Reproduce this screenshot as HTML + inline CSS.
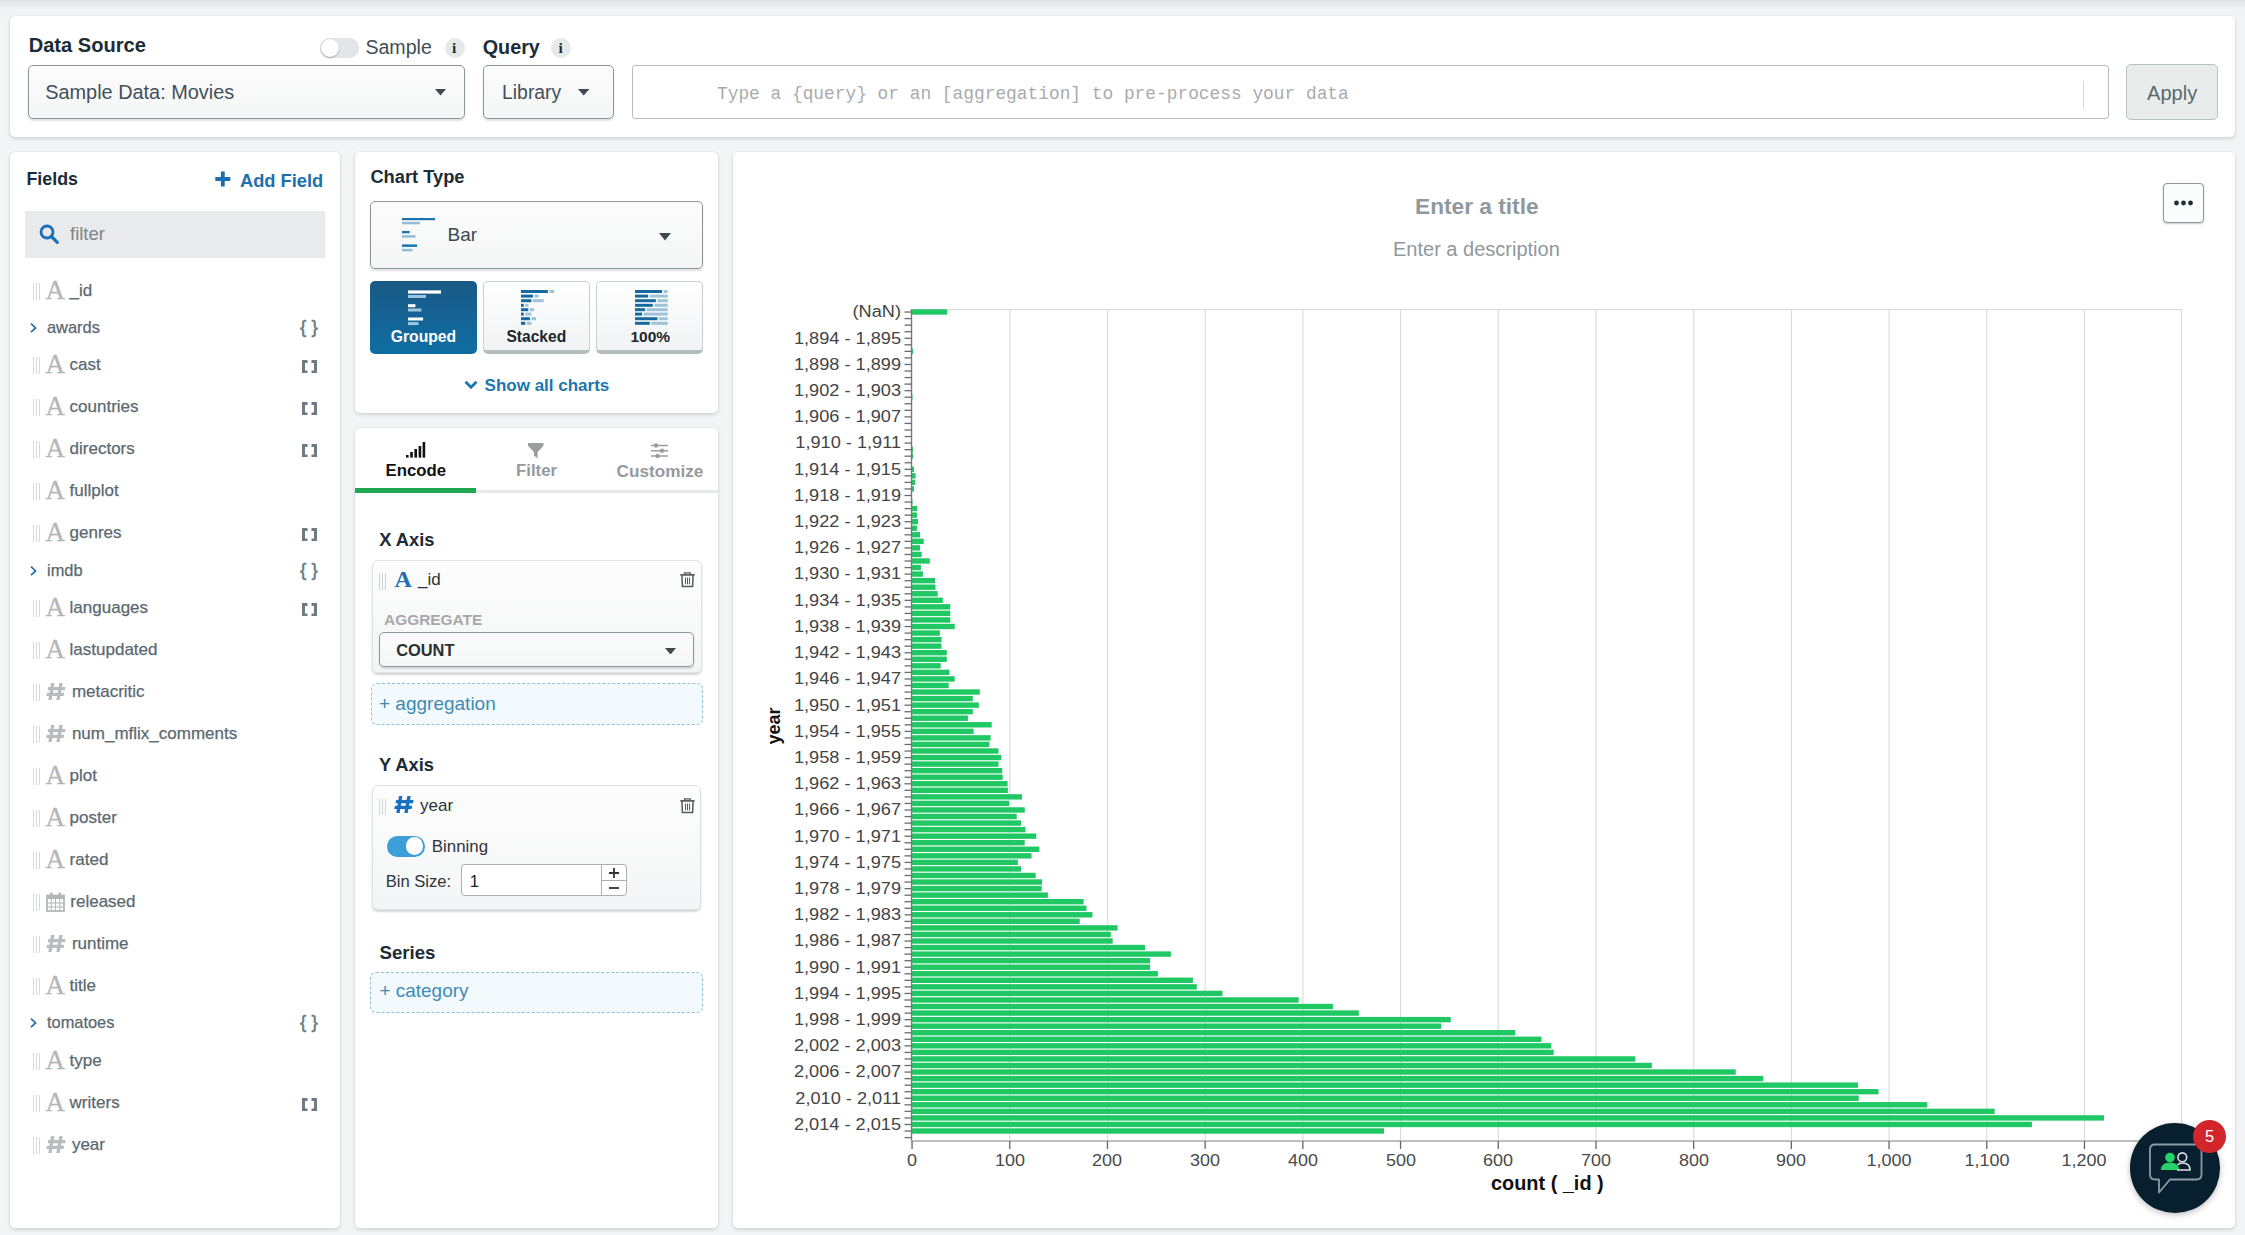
<!DOCTYPE html>
<html><head><meta charset="utf-8"><title>Charts</title>
<style>
html,body{margin:0;padding:0;}
body{width:2245px;height:1235px;overflow:hidden;position:relative;background:#f3f4f6;font-family:'Liberation Sans', sans-serif;}
.t{position:absolute;line-height:1;white-space:nowrap;}
.yl{left:700px;width:201px;text-align:right;font-size:16px;color:#444;transform:scaleX(1.135);transform-origin:100% 50%;}
.xl{top:1151.5px;width:120px;text-align:center;font-size:16.5px;color:#4a4a4a;transform:scaleX(1.09);}
</style></head><body>
<div style="position:absolute;left:0.0px;top:0.0px;width:2245.0px;height:16.0px;background:linear-gradient(#e1e2e4,#f1f2f4 55%,#f3f4f6)"></div><div style="position:absolute;left:10.0px;top:16.0px;width:2225.0px;height:121.0px;background:#fff;border-radius:5px;box-shadow:0 2px 4px rgba(0,0,0,0.12),0 0 2px rgba(0,0,0,0.09)"></div><div style="position:absolute;left:10.0px;top:152.0px;width:330.0px;height:1076.0px;background:#fff;border-radius:5px;box-shadow:0 2px 4px rgba(0,0,0,0.12),0 0 2px rgba(0,0,0,0.09)"></div><div style="position:absolute;left:355.0px;top:152.0px;width:363.0px;height:261.0px;background:#fff;border-radius:5px;box-shadow:0 2px 4px rgba(0,0,0,0.12),0 0 2px rgba(0,0,0,0.09)"></div><div style="position:absolute;left:355.0px;top:428.0px;width:363.0px;height:800.0px;background:#fff;border-radius:5px;box-shadow:0 2px 4px rgba(0,0,0,0.12),0 0 2px rgba(0,0,0,0.09)"></div><div style="position:absolute;left:733.0px;top:152.0px;width:1502.0px;height:1076.0px;background:#fff;border-radius:5px;box-shadow:0 2px 4px rgba(0,0,0,0.12),0 0 2px rgba(0,0,0,0.09)"></div><div class="t" style="left:28.7px;top:34.99px;font-size:20.1px;font-weight:700;color:#1c2c36;font-family:'Liberation Sans', sans-serif;">Data Source</div><div style="position:absolute;left:319.6px;top:37.5px;width:39.0px;height:20.0px;background:#e3e6e8;border-radius:10px;box-shadow:inset 0 0 1px rgba(0,0,0,.15)"></div><div style="position:absolute;left:320.6px;top:38.5px;width:18.0px;height:18.0px;background:#fff;border-radius:50%;box-shadow:0 1px 2px rgba(0,0,0,.3)"></div><div class="t" style="left:365.4px;top:38.01px;font-size:19.6px;color:#3f4d55;font-family:'Liberation Sans', sans-serif;">Sample</div><div style="position:absolute;left:444.5px;top:37.5px;width:20.0px;height:20.0px;background:#e6e9ea;border-radius:50%"></div><div class="t" style="left:451.9px;top:40.18px;font-size:15.5px;font-weight:700;color:#1f2f38;font-family:'Liberation Serif', serif;">i</div><div class="t" style="left:482.7px;top:37.84px;font-size:19.8px;font-weight:700;color:#1c2c36;font-family:'Liberation Sans', sans-serif;">Query</div><div style="position:absolute;left:551.0px;top:37.5px;width:20.0px;height:20.0px;background:#e6e9ea;border-radius:50%"></div><div class="t" style="left:558.4px;top:40.18px;font-size:15.5px;font-weight:700;color:#1f2f38;font-family:'Liberation Serif', serif;">i</div><div style="position:absolute;left:28.0px;top:65.0px;width:437.0px;height:54.0px;background:linear-gradient(#fbfbfb,#f5f6f6);border:1px solid #8c969b;border-radius:5px;box-sizing:border-box;box-shadow:0 2px 2px rgba(0,0,0,.12)"></div><div class="t" style="left:45.2px;top:82.95px;font-size:19.9px;color:#43505a;font-family:'Liberation Sans', sans-serif;">Sample Data: Movies</div><svg style="position:absolute;left:435px;top:89px" width="11" height="6.5"><path d="M0 0H11L5.5 6.5Z" fill="#3e4b52"/></svg><div style="position:absolute;left:483.0px;top:65.0px;width:131.0px;height:54.0px;background:linear-gradient(#fbfbfb,#f5f6f6);border:1px solid #8c969b;border-radius:5px;box-sizing:border-box;box-shadow:0 2px 2px rgba(0,0,0,.12)"></div><div class="t" style="left:502.0px;top:83.38px;font-size:19.4px;color:#43505a;font-family:'Liberation Sans', sans-serif;">Library</div><svg style="position:absolute;left:577.5px;top:89px" width="11.5" height="6.5"><path d="M0 0H11.5L5.75 6.5Z" fill="#3e4b52"/></svg><div style="position:absolute;left:632.4px;top:65.0px;width:1476.6px;height:53.5px;background:#fff;border:1px solid #b8bcbf;border-radius:3px;box-sizing:border-box"></div><div style="position:absolute;left:2083.0px;top:81.0px;width:1.0px;height:28.0px;background:#d5d7d8"></div><div class="t" style="left:716.9px;top:84.89px;font-size:18.15px;color:#a8abad;font-family:'Liberation Mono', monospace;transform:scaleX(0.9836);transform-origin:0 50%;">Type a {query} or an [aggregation] to pre-process your data</div><div style="position:absolute;left:2125.6px;top:64.0px;width:92.4px;height:56.0px;background:#e8edec;border:1px solid #b7c3c1;border-radius:5px;box-sizing:border-box"></div><div class="t" style="left:2147.0px;top:82.71px;font-size:20.07px;color:#5a686d;font-family:'Liberation Sans', sans-serif;">Apply</div><div class="t" style="left:26.5px;top:171.43px;font-size:17.8px;font-weight:700;color:#1c2c36;font-family:'Liberation Sans', sans-serif;">Fields</div><svg style="position:absolute;left:215px;top:171px" width="16" height="16"><path d="M7.8 0.5V15.5M0.3 8H15.3" stroke="#1a6fb0" stroke-width="3.8"/></svg><div class="t" style="left:240.0px;top:171.51px;font-size:18.3px;font-weight:700;color:#1d6fae;font-family:'Liberation Sans', sans-serif;">Add Field</div><div style="position:absolute;left:25.0px;top:210.5px;width:300.0px;height:47.5px;background:#e9eaec"></div><svg style="position:absolute;left:39px;top:224px" width="21" height="21"><circle cx="8" cy="8" r="6" fill="none" stroke="#1a6fb6" stroke-width="2.8"/><path d="M12.3 12.3L18.3 18.3" stroke="#1a6fb6" stroke-width="3.2" stroke-linecap="round"/></svg><div class="t" style="left:70.0px;top:224.54px;font-size:18.5px;color:#7c868a;font-family:'Liberation Sans', sans-serif;">filter</div><div style="position:absolute;left:33.0px;top:283.0px;width:1.1px;height:16.8px;background:#d6d9db"></div><div style="position:absolute;left:36.0px;top:283.0px;width:1.1px;height:16.8px;background:#d6d9db"></div><div style="position:absolute;left:39.0px;top:283.0px;width:1.1px;height:16.8px;background:#d6d9db"></div><div class="t" style="left:45.4px;top:277.15px;font-size:27px;color:#b3b7b9;font-family:'Liberation Serif', serif;-webkit-text-stroke:0.3px #b3b7b9">A</div><div class="t" style="left:69.6px;top:281.81px;font-size:17px;color:#5b6970;font-family:'Liberation Sans', sans-serif;-webkit-text-stroke:0.25px #5b6970">_id</div><svg style="position:absolute;left:29px;top:321.5px" width="9" height="12"><path d="M2 1.6L6.6 5.9L2 10.2" fill="none" stroke="#1f69a6" stroke-width="1.6"/></svg><div class="t" style="left:47.0px;top:318.72px;font-size:16.4px;color:#5b6970;font-family:'Liberation Sans', sans-serif;-webkit-text-stroke:0.25px #5b6970">awards</div><div class="t" style="left:300.0px;top:317.42px;font-size:19px;color:#6e7b80;font-family:'Liberation Sans', sans-serif;-webkit-text-stroke:0.5px #6e7b80">{ }</div><div style="position:absolute;left:33.0px;top:357.0px;width:1.1px;height:16.8px;background:#d6d9db"></div><div style="position:absolute;left:36.0px;top:357.0px;width:1.1px;height:16.8px;background:#d6d9db"></div><div style="position:absolute;left:39.0px;top:357.0px;width:1.1px;height:16.8px;background:#d6d9db"></div><div class="t" style="left:45.4px;top:351.15px;font-size:27px;color:#b3b7b9;font-family:'Liberation Serif', serif;-webkit-text-stroke:0.3px #b3b7b9">A</div><div class="t" style="left:69.6px;top:355.81px;font-size:17px;color:#5b6970;font-family:'Liberation Sans', sans-serif;-webkit-text-stroke:0.25px #5b6970">cast</div><svg style="position:absolute;left:302px;top:359.5px" width="15" height="13.5"><path d="M5.5 1.5H1.5V12H5.5M9.5 1.5H13.5V12H9.5" fill="none" stroke="#6e7b80" stroke-width="3"/></svg><div style="position:absolute;left:33.0px;top:399.0px;width:1.1px;height:16.8px;background:#d6d9db"></div><div style="position:absolute;left:36.0px;top:399.0px;width:1.1px;height:16.8px;background:#d6d9db"></div><div style="position:absolute;left:39.0px;top:399.0px;width:1.1px;height:16.8px;background:#d6d9db"></div><div class="t" style="left:45.4px;top:393.15px;font-size:27px;color:#b3b7b9;font-family:'Liberation Serif', serif;-webkit-text-stroke:0.3px #b3b7b9">A</div><div class="t" style="left:69.6px;top:397.81px;font-size:17px;color:#5b6970;font-family:'Liberation Sans', sans-serif;-webkit-text-stroke:0.25px #5b6970">countries</div><svg style="position:absolute;left:302px;top:401.5px" width="15" height="13.5"><path d="M5.5 1.5H1.5V12H5.5M9.5 1.5H13.5V12H9.5" fill="none" stroke="#6e7b80" stroke-width="3"/></svg><div style="position:absolute;left:33.0px;top:441.0px;width:1.1px;height:16.8px;background:#d6d9db"></div><div style="position:absolute;left:36.0px;top:441.0px;width:1.1px;height:16.8px;background:#d6d9db"></div><div style="position:absolute;left:39.0px;top:441.0px;width:1.1px;height:16.8px;background:#d6d9db"></div><div class="t" style="left:45.4px;top:435.15px;font-size:27px;color:#b3b7b9;font-family:'Liberation Serif', serif;-webkit-text-stroke:0.3px #b3b7b9">A</div><div class="t" style="left:69.6px;top:439.81px;font-size:17px;color:#5b6970;font-family:'Liberation Sans', sans-serif;-webkit-text-stroke:0.25px #5b6970">directors</div><svg style="position:absolute;left:302px;top:443.5px" width="15" height="13.5"><path d="M5.5 1.5H1.5V12H5.5M9.5 1.5H13.5V12H9.5" fill="none" stroke="#6e7b80" stroke-width="3"/></svg><div style="position:absolute;left:33.0px;top:483.0px;width:1.1px;height:16.8px;background:#d6d9db"></div><div style="position:absolute;left:36.0px;top:483.0px;width:1.1px;height:16.8px;background:#d6d9db"></div><div style="position:absolute;left:39.0px;top:483.0px;width:1.1px;height:16.8px;background:#d6d9db"></div><div class="t" style="left:45.4px;top:477.15px;font-size:27px;color:#b3b7b9;font-family:'Liberation Serif', serif;-webkit-text-stroke:0.3px #b3b7b9">A</div><div class="t" style="left:69.6px;top:481.81px;font-size:17px;color:#5b6970;font-family:'Liberation Sans', sans-serif;-webkit-text-stroke:0.25px #5b6970">fullplot</div><div style="position:absolute;left:33.0px;top:525.0px;width:1.1px;height:16.8px;background:#d6d9db"></div><div style="position:absolute;left:36.0px;top:525.0px;width:1.1px;height:16.8px;background:#d6d9db"></div><div style="position:absolute;left:39.0px;top:525.0px;width:1.1px;height:16.8px;background:#d6d9db"></div><div class="t" style="left:45.4px;top:519.15px;font-size:27px;color:#b3b7b9;font-family:'Liberation Serif', serif;-webkit-text-stroke:0.3px #b3b7b9">A</div><div class="t" style="left:69.6px;top:523.81px;font-size:17px;color:#5b6970;font-family:'Liberation Sans', sans-serif;-webkit-text-stroke:0.25px #5b6970">genres</div><svg style="position:absolute;left:302px;top:527.5px" width="15" height="13.5"><path d="M5.5 1.5H1.5V12H5.5M9.5 1.5H13.5V12H9.5" fill="none" stroke="#6e7b80" stroke-width="3"/></svg><svg style="position:absolute;left:29px;top:564.5px" width="9" height="12"><path d="M2 1.6L6.6 5.9L2 10.2" fill="none" stroke="#1f69a6" stroke-width="1.6"/></svg><div class="t" style="left:47.0px;top:561.72px;font-size:16.4px;color:#5b6970;font-family:'Liberation Sans', sans-serif;-webkit-text-stroke:0.25px #5b6970">imdb</div><div class="t" style="left:300.0px;top:560.42px;font-size:19px;color:#6e7b80;font-family:'Liberation Sans', sans-serif;-webkit-text-stroke:0.5px #6e7b80">{ }</div><div style="position:absolute;left:33.0px;top:600.0px;width:1.1px;height:16.8px;background:#d6d9db"></div><div style="position:absolute;left:36.0px;top:600.0px;width:1.1px;height:16.8px;background:#d6d9db"></div><div style="position:absolute;left:39.0px;top:600.0px;width:1.1px;height:16.8px;background:#d6d9db"></div><div class="t" style="left:45.4px;top:594.15px;font-size:27px;color:#b3b7b9;font-family:'Liberation Serif', serif;-webkit-text-stroke:0.3px #b3b7b9">A</div><div class="t" style="left:69.6px;top:598.81px;font-size:17px;color:#5b6970;font-family:'Liberation Sans', sans-serif;-webkit-text-stroke:0.25px #5b6970">languages</div><svg style="position:absolute;left:302px;top:602.5px" width="15" height="13.5"><path d="M5.5 1.5H1.5V12H5.5M9.5 1.5H13.5V12H9.5" fill="none" stroke="#6e7b80" stroke-width="3"/></svg><div style="position:absolute;left:33.0px;top:642.0px;width:1.1px;height:16.8px;background:#d6d9db"></div><div style="position:absolute;left:36.0px;top:642.0px;width:1.1px;height:16.8px;background:#d6d9db"></div><div style="position:absolute;left:39.0px;top:642.0px;width:1.1px;height:16.8px;background:#d6d9db"></div><div class="t" style="left:45.4px;top:636.15px;font-size:27px;color:#b3b7b9;font-family:'Liberation Serif', serif;-webkit-text-stroke:0.3px #b3b7b9">A</div><div class="t" style="left:69.6px;top:640.81px;font-size:17px;color:#5b6970;font-family:'Liberation Sans', sans-serif;-webkit-text-stroke:0.25px #5b6970">lastupdated</div><div style="position:absolute;left:33.0px;top:684.0px;width:1.1px;height:16.8px;background:#d6d9db"></div><div style="position:absolute;left:36.0px;top:684.0px;width:1.1px;height:16.8px;background:#d6d9db"></div><div style="position:absolute;left:39.0px;top:684.0px;width:1.1px;height:16.8px;background:#d6d9db"></div><svg style="position:absolute;left:46.2px;top:683.4px" width="21.0" height="18.0" viewBox="0 0 21 18"><g fill="#b9bcbe"><path d="M5 0H8.4L5.7 17H2.3Z"/><path d="M13.3 0H16.7L13.7 17H10.3Z"/><path d="M2.2 4.1H19.5L19 7.2H1.7Z"/><path d="M0.9 9.8H18.2L17.6 12.9H0.3Z"/></g></svg><div class="t" style="left:71.9px;top:682.81px;font-size:17px;color:#5b6970;font-family:'Liberation Sans', sans-serif;-webkit-text-stroke:0.25px #5b6970">metacritic</div><div style="position:absolute;left:33.0px;top:726.0px;width:1.1px;height:16.8px;background:#d6d9db"></div><div style="position:absolute;left:36.0px;top:726.0px;width:1.1px;height:16.8px;background:#d6d9db"></div><div style="position:absolute;left:39.0px;top:726.0px;width:1.1px;height:16.8px;background:#d6d9db"></div><svg style="position:absolute;left:46.2px;top:725.4px" width="21.0" height="18.0" viewBox="0 0 21 18"><g fill="#b9bcbe"><path d="M5 0H8.4L5.7 17H2.3Z"/><path d="M13.3 0H16.7L13.7 17H10.3Z"/><path d="M2.2 4.1H19.5L19 7.2H1.7Z"/><path d="M0.9 9.8H18.2L17.6 12.9H0.3Z"/></g></svg><div class="t" style="left:71.9px;top:724.81px;font-size:17px;color:#5b6970;font-family:'Liberation Sans', sans-serif;-webkit-text-stroke:0.25px #5b6970">num_mflix_comments</div><div style="position:absolute;left:33.0px;top:768.0px;width:1.1px;height:16.8px;background:#d6d9db"></div><div style="position:absolute;left:36.0px;top:768.0px;width:1.1px;height:16.8px;background:#d6d9db"></div><div style="position:absolute;left:39.0px;top:768.0px;width:1.1px;height:16.8px;background:#d6d9db"></div><div class="t" style="left:45.4px;top:762.15px;font-size:27px;color:#b3b7b9;font-family:'Liberation Serif', serif;-webkit-text-stroke:0.3px #b3b7b9">A</div><div class="t" style="left:69.6px;top:766.81px;font-size:17px;color:#5b6970;font-family:'Liberation Sans', sans-serif;-webkit-text-stroke:0.25px #5b6970">plot</div><div style="position:absolute;left:33.0px;top:810.0px;width:1.1px;height:16.8px;background:#d6d9db"></div><div style="position:absolute;left:36.0px;top:810.0px;width:1.1px;height:16.8px;background:#d6d9db"></div><div style="position:absolute;left:39.0px;top:810.0px;width:1.1px;height:16.8px;background:#d6d9db"></div><div class="t" style="left:45.4px;top:804.15px;font-size:27px;color:#b3b7b9;font-family:'Liberation Serif', serif;-webkit-text-stroke:0.3px #b3b7b9">A</div><div class="t" style="left:69.6px;top:808.81px;font-size:17px;color:#5b6970;font-family:'Liberation Sans', sans-serif;-webkit-text-stroke:0.25px #5b6970">poster</div><div style="position:absolute;left:33.0px;top:852.0px;width:1.1px;height:16.8px;background:#d6d9db"></div><div style="position:absolute;left:36.0px;top:852.0px;width:1.1px;height:16.8px;background:#d6d9db"></div><div style="position:absolute;left:39.0px;top:852.0px;width:1.1px;height:16.8px;background:#d6d9db"></div><div class="t" style="left:45.4px;top:846.15px;font-size:27px;color:#b3b7b9;font-family:'Liberation Serif', serif;-webkit-text-stroke:0.3px #b3b7b9">A</div><div class="t" style="left:69.6px;top:850.81px;font-size:17px;color:#5b6970;font-family:'Liberation Sans', sans-serif;-webkit-text-stroke:0.25px #5b6970">rated</div><div style="position:absolute;left:33.0px;top:894.0px;width:1.1px;height:16.8px;background:#d6d9db"></div><div style="position:absolute;left:36.0px;top:894.0px;width:1.1px;height:16.8px;background:#d6d9db"></div><div style="position:absolute;left:39.0px;top:894.0px;width:1.1px;height:16.8px;background:#d6d9db"></div><svg style="position:absolute;left:46px;top:891.5px" width="19" height="20"><rect x="1" y="3.5" width="17" height="15.5" fill="none" stroke="#b3b7b9" stroke-width="1.8"/><rect x="1" y="3.5" width="17" height="3.5" fill="#b3b7b9"/><path d="M1 11H18M1 15H18M5.2 7V19M9.5 7V19M13.8 7V19" stroke="#b3b7b9" stroke-width="1"/><rect x="4" y="0.5" width="2.5" height="4" fill="#b3b7b9"/><rect x="12.5" y="0.5" width="2.5" height="4" fill="#b3b7b9"/></svg><div class="t" style="left:70.3px;top:892.81px;font-size:17px;color:#5b6970;font-family:'Liberation Sans', sans-serif;-webkit-text-stroke:0.25px #5b6970">released</div><div style="position:absolute;left:33.0px;top:936.0px;width:1.1px;height:16.8px;background:#d6d9db"></div><div style="position:absolute;left:36.0px;top:936.0px;width:1.1px;height:16.8px;background:#d6d9db"></div><div style="position:absolute;left:39.0px;top:936.0px;width:1.1px;height:16.8px;background:#d6d9db"></div><svg style="position:absolute;left:46.2px;top:935.4px" width="21.0" height="18.0" viewBox="0 0 21 18"><g fill="#b9bcbe"><path d="M5 0H8.4L5.7 17H2.3Z"/><path d="M13.3 0H16.7L13.7 17H10.3Z"/><path d="M2.2 4.1H19.5L19 7.2H1.7Z"/><path d="M0.9 9.8H18.2L17.6 12.9H0.3Z"/></g></svg><div class="t" style="left:71.9px;top:934.81px;font-size:17px;color:#5b6970;font-family:'Liberation Sans', sans-serif;-webkit-text-stroke:0.25px #5b6970">runtime</div><div style="position:absolute;left:33.0px;top:978.0px;width:1.1px;height:16.8px;background:#d6d9db"></div><div style="position:absolute;left:36.0px;top:978.0px;width:1.1px;height:16.8px;background:#d6d9db"></div><div style="position:absolute;left:39.0px;top:978.0px;width:1.1px;height:16.8px;background:#d6d9db"></div><div class="t" style="left:45.4px;top:972.15px;font-size:27px;color:#b3b7b9;font-family:'Liberation Serif', serif;-webkit-text-stroke:0.3px #b3b7b9">A</div><div class="t" style="left:69.6px;top:976.81px;font-size:17px;color:#5b6970;font-family:'Liberation Sans', sans-serif;-webkit-text-stroke:0.25px #5b6970">title</div><svg style="position:absolute;left:29px;top:1016.5px" width="9" height="12"><path d="M2 1.6L6.6 5.9L2 10.2" fill="none" stroke="#1f69a6" stroke-width="1.6"/></svg><div class="t" style="left:47.0px;top:1013.72px;font-size:16.4px;color:#5b6970;font-family:'Liberation Sans', sans-serif;-webkit-text-stroke:0.25px #5b6970">tomatoes</div><div class="t" style="left:300.0px;top:1012.42px;font-size:19px;color:#6e7b80;font-family:'Liberation Sans', sans-serif;-webkit-text-stroke:0.5px #6e7b80">{ }</div><div style="position:absolute;left:33.0px;top:1053.0px;width:1.1px;height:16.8px;background:#d6d9db"></div><div style="position:absolute;left:36.0px;top:1053.0px;width:1.1px;height:16.8px;background:#d6d9db"></div><div style="position:absolute;left:39.0px;top:1053.0px;width:1.1px;height:16.8px;background:#d6d9db"></div><div class="t" style="left:45.4px;top:1047.15px;font-size:27px;color:#b3b7b9;font-family:'Liberation Serif', serif;-webkit-text-stroke:0.3px #b3b7b9">A</div><div class="t" style="left:69.6px;top:1051.81px;font-size:17px;color:#5b6970;font-family:'Liberation Sans', sans-serif;-webkit-text-stroke:0.25px #5b6970">type</div><div style="position:absolute;left:33.0px;top:1095.0px;width:1.1px;height:16.8px;background:#d6d9db"></div><div style="position:absolute;left:36.0px;top:1095.0px;width:1.1px;height:16.8px;background:#d6d9db"></div><div style="position:absolute;left:39.0px;top:1095.0px;width:1.1px;height:16.8px;background:#d6d9db"></div><div class="t" style="left:45.4px;top:1089.15px;font-size:27px;color:#b3b7b9;font-family:'Liberation Serif', serif;-webkit-text-stroke:0.3px #b3b7b9">A</div><div class="t" style="left:69.6px;top:1093.81px;font-size:17px;color:#5b6970;font-family:'Liberation Sans', sans-serif;-webkit-text-stroke:0.25px #5b6970">writers</div><svg style="position:absolute;left:302px;top:1097.5px" width="15" height="13.5"><path d="M5.5 1.5H1.5V12H5.5M9.5 1.5H13.5V12H9.5" fill="none" stroke="#6e7b80" stroke-width="3"/></svg><div style="position:absolute;left:33.0px;top:1137.0px;width:1.1px;height:16.8px;background:#d6d9db"></div><div style="position:absolute;left:36.0px;top:1137.0px;width:1.1px;height:16.8px;background:#d6d9db"></div><div style="position:absolute;left:39.0px;top:1137.0px;width:1.1px;height:16.8px;background:#d6d9db"></div><svg style="position:absolute;left:46.2px;top:1136.4px" width="21.0" height="18.0" viewBox="0 0 21 18"><g fill="#b9bcbe"><path d="M5 0H8.4L5.7 17H2.3Z"/><path d="M13.3 0H16.7L13.7 17H10.3Z"/><path d="M2.2 4.1H19.5L19 7.2H1.7Z"/><path d="M0.9 9.8H18.2L17.6 12.9H0.3Z"/></g></svg><div class="t" style="left:71.9px;top:1135.81px;font-size:17px;color:#5b6970;font-family:'Liberation Sans', sans-serif;-webkit-text-stroke:0.25px #5b6970">year</div><div class="t" style="left:370.4px;top:167.51px;font-size:18.3px;font-weight:700;color:#1c2c36;font-family:'Liberation Sans', sans-serif;">Chart Type</div><div style="position:absolute;left:370.4px;top:201.2px;width:332.2px;height:67.5px;background:linear-gradient(#fbfbfb,#f5f6f6);border:1px solid #8c969b;border-radius:5px;box-sizing:border-box;box-shadow:0 2px 2px rgba(0,0,0,.12)"></div><svg style="position:absolute;left:402px;top:218px" width="34" height="34"><g fill="#1776b0"><rect x="0" y="0" width="33" height="2.2"/><rect x="0" y="13" width="7.7" height="2.3"/><rect x="0" y="26.4" width="15" height="2.5"/></g><g fill="#93bdd6"><rect x="0" y="3.9" width="18" height="2.4"/><rect x="0" y="17.2" width="13.5" height="2.5"/><rect x="0" y="30.9" width="10.5" height="2.5"/></g></svg><div class="t" style="left:447.5px;top:225.22px;font-size:19px;color:#3c4a52;font-family:'Liberation Sans', sans-serif;">Bar</div><svg style="position:absolute;left:658.5px;top:233px" width="12" height="7.5"><path d="M0 0H12L6.0 7.5Z" fill="#3e4b52"/></svg><div style="position:absolute;left:370.0px;top:281.2px;width:107.0px;height:72.5px;background:linear-gradient(#1a5985,#0f6ea4);border-radius:5px"></div><svg style="position:absolute;left:408px;top:289.5px" width="34" height="36"><g fill="#fff"><rect x="0" y="0.4" width="33" height="3.2"/><rect x="0" y="14.2" width="7.4" height="3"/><rect x="0" y="27.5" width="15.1" height="3"/></g><g fill="#9cc6e0"><rect x="0" y="5" width="18" height="3"/><rect x="0" y="18.5" width="13.4" height="3"/><rect x="0" y="32.1" width="10.5" height="3"/></g></svg><div class="t" style="left:390.8px;top:328.61px;font-size:15.7px;font-weight:700;color:#fff;font-family:'Liberation Sans', sans-serif;">Grouped</div><div style="position:absolute;left:483.3px;top:281.2px;width:106.4px;height:72.5px;background:linear-gradient(#fff,#f1f3f4);border:1px solid #c8cfd0;border-bottom:4px solid #b4bebd;border-radius:5px;box-sizing:border-box"></div><div style="position:absolute;left:596.2px;top:281.2px;width:106.4px;height:72.5px;background:linear-gradient(#fff,#f1f3f4);border:1px solid #c8cfd0;border-bottom:4px solid #b4bebd;border-radius:5px;box-sizing:border-box"></div><svg style="position:absolute;left:521px;top:290px" width="36" height="36"><rect x="0.0" y="0" width="26.894114031043493" height="3" fill="#15699e"/><rect x="28.43092054710312" y="0" width="4.610419548178882" height="3" fill="#9dc3da"/><rect x="0.0" y="4.6" width="11.9870908252651" height="3" fill="#15699e"/><rect x="13.523897341324728" y="4.6" width="4.149377593360997" height="3" fill="#9dc3da"/><rect x="0.0" y="9.2" width="10.450284309205472" height="3" fill="#15699e"/><rect x="11.9870908252651" y="9.2" width="10.757645612417399" height="3" fill="#9dc3da"/><rect x="0.0" y="13.8" width="2.7662517289073305" height="3" fill="#15699e"/><rect x="4.303058244966959" y="13.8" width="3.0736130321192565" height="3" fill="#9dc3da"/><rect x="0.0" y="18.2" width="7.376671277086215" height="3" fill="#15699e"/><rect x="8.913477793145843" y="18.2" width="4.149377593360997" height="3" fill="#9dc3da"/><rect x="0.0" y="22.6" width="2.7662517289073305" height="3" fill="#15699e"/><rect x="4.303058244966959" y="22.6" width="6.147226064238513" height="3" fill="#9dc3da"/><rect x="0.0" y="27.2" width="8.913477793145843" height="3" fill="#15699e"/><rect x="10.450284309205472" y="27.2" width="4.610419548178884" height="3" fill="#9dc3da"/><rect x="0.0" y="31.8" width="4.303058244966959" height="3" fill="#15699e"/><rect x="5.839864761026587" y="31.8" width="4.610419548178885" height="3" fill="#9dc3da"/></svg><svg style="position:absolute;left:635px;top:290px" width="36" height="36"><rect x="0.0" y="0" width="27.047794682649457" height="3" fill="#15699e"/><rect x="28.584601198709084" y="0" width="4.149377593360999" height="3" fill="#9dc3da"/><rect x="0.0" y="4.6" width="13.216536038112801" height="3" fill="#15699e"/><rect x="14.75334255417243" y="4.6" width="17.980636237897652" height="3" fill="#9dc3da"/><rect x="0.0" y="9.2" width="20.900568618410944" height="3" fill="#15699e"/><rect x="22.43737513447057" y="9.2" width="10.296603657599512" height="3" fill="#9dc3da"/><rect x="0.0" y="13.8" width="17.826955586291685" height="3" fill="#15699e"/><rect x="19.363762102351316" y="13.8" width="13.370216689718767" height="3" fill="#9dc3da"/><rect x="0.0" y="18.2" width="10.142923005993547" height="3" fill="#15699e"/><rect x="11.679729522053174" y="18.2" width="21.05424927001691" height="3" fill="#9dc3da"/><rect x="0.0" y="22.6" width="7.069309973874289" height="3" fill="#15699e"/><rect x="8.606116489933918" y="22.6" width="24.127862302136165" height="3" fill="#9dc3da"/><rect x="0.0" y="27.2" width="22.43737513447057" height="3" fill="#15699e"/><rect x="23.9741816505302" y="27.2" width="8.759797141539885" height="3" fill="#9dc3da"/><rect x="0.0" y="31.8" width="14.75334255417243" height="3" fill="#15699e"/><rect x="16.290149070232058" y="31.8" width="16.443829721838025" height="3" fill="#9dc3da"/></svg><div class="t" style="left:506.4px;top:328.69px;font-size:15.6px;font-weight:700;color:#1e262b;font-family:'Liberation Sans', sans-serif;">Stacked</div><div class="t" style="left:630.4px;top:328.78px;font-size:15.5px;font-weight:700;color:#1e262b;font-family:'Liberation Sans', sans-serif;">100%</div><svg style="position:absolute;left:464px;top:380px" width="14" height="10"><path d="M1.5 1.8L7 7.3L12.5 1.8" fill="none" stroke="#1c76b0" stroke-width="2.8"/></svg><div class="t" style="left:484.6px;top:376.81px;font-size:17px;font-weight:700;color:#1c76b0;font-family:'Liberation Sans', sans-serif;">Show all charts</div><div style="position:absolute;left:355.0px;top:489.5px;width:363.0px;height:3.0px;background:#e7e8e9"></div><div style="position:absolute;left:355.0px;top:488.2px;width:121.0px;height:4.4px;background:#1faa52"></div><svg style="position:absolute;left:406px;top:442px" width="20" height="16"><g fill="#111"><rect x="0" y="13" width="2.6" height="2.6"/><rect x="4.2" y="10" width="2.6" height="5.6"/><rect x="8.4" y="7" width="2.6" height="8.6"/><rect x="12.6" y="4" width="2.6" height="11.6"/><rect x="16.6" y="0" width="2.6" height="15.6"/></g></svg><div class="t" style="left:385.5px;top:462.98px;font-size:16.8px;font-weight:700;color:#111;font-family:'Liberation Sans', sans-serif;">Encode</div><svg style="position:absolute;left:528px;top:443px" width="16" height="16"><path d="M0 0H15.5V2.8L9.6 9V15.5L5.9 12.5V9L0 2.8Z" fill="#9b9d9f"/></svg><div class="t" style="left:516.0px;top:462.98px;font-size:16.8px;font-weight:700;color:#979a9c;font-family:'Liberation Sans', sans-serif;">Filter</div><svg style="position:absolute;left:651px;top:443px" width="18" height="16"><g stroke="#9b9d9f" stroke-width="1.6"><path d="M0 2.5H17M0 7.8H17M0 13H17"/></g><g fill="#9b9d9f"><circle cx="5" cy="2.5" r="2.2"/><circle cx="11" cy="7.8" r="2.2"/><circle cx="6.5" cy="13" r="2.2"/></g></svg><div class="t" style="left:616.6px;top:462.67px;font-size:17.17px;font-weight:700;color:#979a9c;font-family:'Liberation Sans', sans-serif;">Customize</div><div class="t" style="left:379.2px;top:530.71px;font-size:18.3px;font-weight:700;color:#1c2c36;font-family:'Liberation Sans', sans-serif;">X Axis</div><div style="position:absolute;left:372.4px;top:559.5px;width:329.4px;height:113.0px;background:linear-gradient(#fdfdfd,#f4f5f6);border:1px solid #e0e3e4;border-radius:6px;box-sizing:border-box;box-shadow:0 2px 2px rgba(0,0,0,.17)"></div><div style="position:absolute;left:379.0px;top:573.0px;width:1.1px;height:16.8px;background:#cfd2d4"></div><div style="position:absolute;left:382.0px;top:573.0px;width:1.1px;height:16.8px;background:#cfd2d4"></div><div style="position:absolute;left:385.0px;top:573.0px;width:1.1px;height:16.8px;background:#cfd2d4"></div><div class="t" style="left:394.5px;top:566.69px;font-size:24px;font-weight:700;color:#1f6db3;font-family:'Liberation Serif', serif;">A</div><div class="t" style="left:418.0px;top:570.61px;font-size:17px;color:#2b3236;font-family:'Liberation Sans', sans-serif;">_id</div><svg style="position:absolute;left:679.5px;top:572px" width="15" height="16"><g fill="none" stroke="#535b60"><path d="M0.3 2.9H14.7" stroke-width="1.7"/><path d="M4.6 2.6V0.9H10.2V2.6" stroke-width="1.4"/><path d="M1.9 3.2L2.4 14.4H12.6L13.1 3.2" stroke-width="1.5"/><path d="M5.5 5.6V12.3M7.5 5.6V12.3M9.5 5.6V12.3" stroke-width="1"/></g></svg><div class="t" style="left:384.0px;top:612.02px;font-size:15.45px;font-weight:700;color:#a6a8a9;font-family:'Liberation Sans', sans-serif;">AGGREGATE</div><div style="position:absolute;left:379.2px;top:632.4px;width:314.6px;height:35.0px;background:linear-gradient(#fbfbfb,#f5f6f6);border:1px solid #8c969b;border-radius:5px;box-sizing:border-box;box-shadow:0 2px 2px rgba(0,0,0,.12)"></div><div class="t" style="left:396.2px;top:642.12px;font-size:16.4px;font-weight:700;color:#2a2f33;font-family:'Liberation Sans', sans-serif;">COUNT</div><svg style="position:absolute;left:665px;top:647.5px" width="11" height="6.5"><path d="M0 0H11L5.5 6.5Z" fill="#3e4b52"/></svg><div style="position:absolute;left:370.7px;top:683.4px;width:332.1px;height:42.1px;background:#f2fafd;border:1.3px dashed #8fc0d5;border-radius:6px;box-sizing:border-box"></div><div class="t" style="left:379.0px;top:694.42px;font-size:19px;color:#3f8bb4;font-family:'Liberation Sans', sans-serif;">+ aggregation</div><div class="t" style="left:379.0px;top:756.11px;font-size:18.3px;font-weight:700;color:#1c2c36;font-family:'Liberation Sans', sans-serif;">Y Axis</div><div style="position:absolute;left:371.9px;top:785.4px;width:329.6px;height:124.5px;background:linear-gradient(#fdfdfd,#f4f5f6);border:1px solid #e0e3e4;border-radius:6px;box-sizing:border-box;box-shadow:0 2px 2px rgba(0,0,0,.17)"></div><div style="position:absolute;left:379.0px;top:798.5px;width:1.1px;height:16.8px;background:#d6d9db"></div><div style="position:absolute;left:382.0px;top:798.5px;width:1.1px;height:16.8px;background:#d6d9db"></div><div style="position:absolute;left:385.0px;top:798.5px;width:1.1px;height:16.8px;background:#d6d9db"></div><svg style="position:absolute;left:394.3px;top:796.1px" width="21.0" height="18.0" viewBox="0 0 21 18"><g fill="#1a6fc0"><path d="M5 0H8.4L5.7 17H2.3Z"/><path d="M13.3 0H16.7L13.7 17H10.3Z"/><path d="M2.2 4.1H19.5L19 7.2H1.7Z"/><path d="M0.9 9.8H18.2L17.6 12.9H0.3Z"/></g></svg><div class="t" style="left:420.0px;top:796.91px;font-size:17px;color:#2b3236;font-family:'Liberation Sans', sans-serif;">year</div><svg style="position:absolute;left:679.5px;top:798px" width="15" height="16"><g fill="none" stroke="#535b60"><path d="M0.3 2.9H14.7" stroke-width="1.7"/><path d="M4.6 2.6V0.9H10.2V2.6" stroke-width="1.4"/><path d="M1.9 3.2L2.4 14.4H12.6L13.1 3.2" stroke-width="1.5"/><path d="M5.5 5.6V12.3M7.5 5.6V12.3M9.5 5.6V12.3" stroke-width="1"/></g></svg><div style="position:absolute;left:386.8px;top:836.0px;width:38.7px;height:20.6px;background:#3c9fd8;border-radius:10.3px"></div><div style="position:absolute;left:405.5px;top:837.4px;width:17.8px;height:17.8px;background:#fff;border-radius:50%"></div><div class="t" style="left:431.8px;top:838.69px;font-size:16.9px;color:#2e3439;font-family:'Liberation Sans', sans-serif;">Binning</div><div class="t" style="left:385.7px;top:873.55px;font-size:16.6px;color:#2e3439;font-family:'Liberation Sans', sans-serif;">Bin Size:</div><div style="position:absolute;left:460.5px;top:864.0px;width:166.0px;height:32.4px;background:#fff;border:1px solid #aab0b3;border-radius:4px;box-sizing:border-box"></div><div style="position:absolute;left:600.5px;top:864.0px;width:1.0px;height:32.4px;background:#aab0b3"></div><div style="position:absolute;left:600.5px;top:880.0px;width:26.0px;height:1.0px;background:#aab0b3"></div><svg style="position:absolute;left:607px;top:866px" width="14" height="28"><path d="M7 2V12M2 7H12" stroke="#333" stroke-width="1.8"/><path d="M2 22H12" stroke="#333" stroke-width="1.8"/></svg><div class="t" style="left:469.7px;top:873.55px;font-size:16.6px;color:#222;font-family:'Liberation Sans', sans-serif;">1</div><div class="t" style="left:379.5px;top:944.01px;font-size:18.65px;font-weight:700;color:#1c2c36;font-family:'Liberation Sans', sans-serif;">Series</div><div style="position:absolute;left:370.3px;top:971.6px;width:332.3px;height:41.6px;background:#f2fafd;border:1.3px dashed #8fc0d5;border-radius:6px;box-sizing:border-box"></div><div class="t" style="left:379.5px;top:982.46px;font-size:18.95px;color:#3f8bb4;font-family:'Liberation Sans', sans-serif;">+ category</div><div class="t" style="left:1415.0px;top:195.28px;font-size:22.7px;font-weight:700;color:#8f999c;font-family:'Liberation Sans', sans-serif;">Enter a title</div><div class="t" style="left:1393.0px;top:239.07px;font-size:20px;color:#8f999c;font-family:'Liberation Sans', sans-serif;">Enter a description</div><div style="position:absolute;left:2163.3px;top:182.5px;width:41.0px;height:40.7px;background:#fbfcfc;border:1px solid #8c969b;border-radius:4px;box-sizing:border-box;box-shadow:0 1px 2px rgba(0,0,0,.2)"></div><svg style="position:absolute;left:2173px;top:199px" width="22" height="8"><g fill="#1f2d35"><circle cx="3.5" cy="4" r="2.4"/><circle cx="10.5" cy="4" r="2.4"/><circle cx="17.5" cy="4" r="2.4"/></g></svg><svg style="position:absolute;left:0;top:0" width="2245" height="1235"><rect x="1009.2" y="309.5" width="1.2" height="831" fill="#dcdcdc"/><rect x="1106.9" y="309.5" width="1.2" height="831" fill="#dcdcdc"/><rect x="1204.6" y="309.5" width="1.2" height="831" fill="#dcdcdc"/><rect x="1302.3" y="309.5" width="1.2" height="831" fill="#dcdcdc"/><rect x="1400.0" y="309.5" width="1.2" height="831" fill="#dcdcdc"/><rect x="1497.7" y="309.5" width="1.2" height="831" fill="#dcdcdc"/><rect x="1595.4" y="309.5" width="1.2" height="831" fill="#dcdcdc"/><rect x="1693.1" y="309.5" width="1.2" height="831" fill="#dcdcdc"/><rect x="1790.8" y="309.5" width="1.2" height="831" fill="#dcdcdc"/><rect x="1888.5" y="309.5" width="1.2" height="831" fill="#dcdcdc"/><rect x="1986.2" y="309.5" width="1.2" height="831" fill="#dcdcdc"/><rect x="2083.9" y="309.5" width="1.2" height="831" fill="#dcdcdc"/><rect x="2181" y="309.5" width="1.2" height="831" fill="#dcdcdc"/><rect x="912" y="309" width="1270" height="1.2" fill="#dcdcdc"/><rect x="912" y="309.30" width="35.0" height="5.4" fill="#20c864"/><rect x="912" y="348.61" width="1.0" height="5.4" fill="#20c864"/><rect x="912" y="394.48" width="0.5" height="5.4" fill="#20c864"/><rect x="912" y="446.89" width="1.0" height="5.4" fill="#20c864"/><rect x="912" y="453.44" width="1.0" height="5.4" fill="#20c864"/><rect x="912" y="466.55" width="2.0" height="5.4" fill="#20c864"/><rect x="912" y="473.10" width="3.6" height="5.4" fill="#20c864"/><rect x="912" y="479.65" width="3.2" height="5.4" fill="#20c864"/><rect x="912" y="486.20" width="2.0" height="5.4" fill="#20c864"/><rect x="912" y="499.31" width="0.5" height="5.4" fill="#20c864"/><rect x="912" y="505.86" width="5.1" height="5.4" fill="#20c864"/><rect x="912" y="512.41" width="4.9" height="5.4" fill="#20c864"/><rect x="912" y="518.96" width="6.0" height="5.4" fill="#20c864"/><rect x="912" y="525.52" width="4.9" height="5.4" fill="#20c864"/><rect x="912" y="532.07" width="8.0" height="5.4" fill="#20c864"/><rect x="912" y="538.62" width="11.7" height="5.4" fill="#20c864"/><rect x="912" y="545.17" width="8.0" height="5.4" fill="#20c864"/><rect x="912" y="551.72" width="9.7" height="5.4" fill="#20c864"/><rect x="912" y="558.28" width="17.8" height="5.4" fill="#20c864"/><rect x="912" y="564.83" width="8.9" height="5.4" fill="#20c864"/><rect x="912" y="571.38" width="10.9" height="5.4" fill="#20c864"/><rect x="912" y="577.93" width="23.0" height="5.4" fill="#20c864"/><rect x="912" y="584.48" width="23.5" height="5.4" fill="#20c864"/><rect x="912" y="591.04" width="25.7" height="5.4" fill="#20c864"/><rect x="912" y="597.59" width="30.8" height="5.4" fill="#20c864"/><rect x="912" y="604.14" width="38.3" height="5.4" fill="#20c864"/><rect x="912" y="610.69" width="38.3" height="5.4" fill="#20c864"/><rect x="912" y="617.24" width="38.3" height="5.4" fill="#20c864"/><rect x="912" y="623.80" width="42.7" height="5.4" fill="#20c864"/><rect x="912" y="630.35" width="27.9" height="5.4" fill="#20c864"/><rect x="912" y="636.90" width="29.6" height="5.4" fill="#20c864"/><rect x="912" y="643.45" width="29.4" height="5.4" fill="#20c864"/><rect x="912" y="650.00" width="34.8" height="5.4" fill="#20c864"/><rect x="912" y="656.56" width="34.8" height="5.4" fill="#20c864"/><rect x="912" y="663.11" width="28.7" height="5.4" fill="#20c864"/><rect x="912" y="669.66" width="37.5" height="5.4" fill="#20c864"/><rect x="912" y="676.21" width="42.7" height="5.4" fill="#20c864"/><rect x="912" y="682.76" width="36.7" height="5.4" fill="#20c864"/><rect x="912" y="689.32" width="67.8" height="5.4" fill="#20c864"/><rect x="912" y="695.87" width="60.8" height="5.4" fill="#20c864"/><rect x="912" y="702.42" width="66.9" height="5.4" fill="#20c864"/><rect x="912" y="708.97" width="60.8" height="5.4" fill="#20c864"/><rect x="912" y="715.52" width="55.9" height="5.4" fill="#20c864"/><rect x="912" y="722.08" width="79.7" height="5.4" fill="#20c864"/><rect x="912" y="728.63" width="61.6" height="5.4" fill="#20c864"/><rect x="912" y="735.18" width="78.6" height="5.4" fill="#20c864"/><rect x="912" y="741.73" width="77.4" height="5.4" fill="#20c864"/><rect x="912" y="748.28" width="86.5" height="5.4" fill="#20c864"/><rect x="912" y="754.84" width="89.3" height="5.4" fill="#20c864"/><rect x="912" y="761.39" width="86.5" height="5.4" fill="#20c864"/><rect x="912" y="767.94" width="90.2" height="5.4" fill="#20c864"/><rect x="912" y="774.49" width="90.7" height="5.4" fill="#20c864"/><rect x="912" y="781.04" width="95.6" height="5.4" fill="#20c864"/><rect x="912" y="787.60" width="95.9" height="5.4" fill="#20c864"/><rect x="912" y="794.15" width="110.0" height="5.4" fill="#20c864"/><rect x="912" y="800.70" width="97.0" height="5.4" fill="#20c864"/><rect x="912" y="807.25" width="112.8" height="5.4" fill="#20c864"/><rect x="912" y="813.80" width="104.7" height="5.4" fill="#20c864"/><rect x="912" y="820.36" width="109.0" height="5.4" fill="#20c864"/><rect x="912" y="826.91" width="113.5" height="5.4" fill="#20c864"/><rect x="912" y="833.46" width="124.3" height="5.4" fill="#20c864"/><rect x="912" y="840.01" width="112.7" height="5.4" fill="#20c864"/><rect x="912" y="846.56" width="127.4" height="5.4" fill="#20c864"/><rect x="912" y="853.12" width="119.5" height="5.4" fill="#20c864"/><rect x="912" y="859.67" width="105.9" height="5.4" fill="#20c864"/><rect x="912" y="866.22" width="109.0" height="5.4" fill="#20c864"/><rect x="912" y="872.77" width="123.7" height="5.4" fill="#20c864"/><rect x="912" y="879.32" width="130.0" height="5.4" fill="#20c864"/><rect x="912" y="885.88" width="129.7" height="5.4" fill="#20c864"/><rect x="912" y="892.43" width="135.9" height="5.4" fill="#20c864"/><rect x="912" y="898.98" width="171.6" height="5.4" fill="#20c864"/><rect x="912" y="905.53" width="174.5" height="5.4" fill="#20c864"/><rect x="912" y="912.08" width="180.4" height="5.4" fill="#20c864"/><rect x="912" y="918.64" width="167.7" height="5.4" fill="#20c864"/><rect x="912" y="925.19" width="205.6" height="5.4" fill="#20c864"/><rect x="912" y="931.74" width="198.8" height="5.4" fill="#20c864"/><rect x="912" y="938.29" width="200.7" height="5.4" fill="#20c864"/><rect x="912" y="944.84" width="233.0" height="5.4" fill="#20c864"/><rect x="912" y="951.40" width="258.9" height="5.4" fill="#20c864"/><rect x="912" y="957.95" width="238.1" height="5.4" fill="#20c864"/><rect x="912" y="964.50" width="238.1" height="5.4" fill="#20c864"/><rect x="912" y="971.05" width="245.9" height="5.4" fill="#20c864"/><rect x="912" y="977.60" width="280.9" height="5.4" fill="#20c864"/><rect x="912" y="984.16" width="284.8" height="5.4" fill="#20c864"/><rect x="912" y="990.71" width="310.5" height="5.4" fill="#20c864"/><rect x="912" y="997.26" width="386.7" height="5.4" fill="#20c864"/><rect x="912" y="1003.81" width="420.9" height="5.4" fill="#20c864"/><rect x="912" y="1010.36" width="446.8" height="5.4" fill="#20c864"/><rect x="912" y="1016.92" width="538.7" height="5.4" fill="#20c864"/><rect x="912" y="1023.47" width="529.2" height="5.4" fill="#20c864"/><rect x="912" y="1030.02" width="603.1" height="5.4" fill="#20c864"/><rect x="912" y="1036.57" width="629.5" height="5.4" fill="#20c864"/><rect x="912" y="1043.12" width="639.2" height="5.4" fill="#20c864"/><rect x="912" y="1049.68" width="641.7" height="5.4" fill="#20c864"/><rect x="912" y="1056.23" width="723.3" height="5.4" fill="#20c864"/><rect x="912" y="1062.78" width="739.9" height="5.4" fill="#20c864"/><rect x="912" y="1069.33" width="823.7" height="5.4" fill="#20c864"/><rect x="912" y="1075.88" width="851.3" height="5.4" fill="#20c864"/><rect x="912" y="1082.44" width="946.0" height="5.4" fill="#20c864"/><rect x="912" y="1088.99" width="966.5" height="5.4" fill="#20c864"/><rect x="912" y="1095.54" width="946.7" height="5.4" fill="#20c864"/><rect x="912" y="1102.09" width="1015.3" height="5.4" fill="#20c864"/><rect x="912" y="1108.64" width="1082.6" height="5.4" fill="#20c864"/><rect x="912" y="1115.20" width="1192.0" height="5.4" fill="#20c864"/><rect x="912" y="1121.75" width="1119.9" height="5.4" fill="#20c864"/><rect x="912" y="1128.30" width="472.0" height="5.4" fill="#20c864"/><rect x="910.8" y="309" width="1.4" height="833" fill="#7a7a7a"/><rect x="904.5" y="311.40" width="7" height="1.3" fill="#6d6d6d"/><rect x="904.5" y="317.95" width="7" height="1.3" fill="#6d6d6d"/><rect x="904.5" y="324.50" width="7" height="1.3" fill="#6d6d6d"/><rect x="904.5" y="331.06" width="7" height="1.3" fill="#6d6d6d"/><rect x="904.5" y="337.61" width="7" height="1.3" fill="#6d6d6d"/><rect x="904.5" y="344.16" width="7" height="1.3" fill="#6d6d6d"/><rect x="904.5" y="350.71" width="7" height="1.3" fill="#6d6d6d"/><rect x="904.5" y="357.26" width="7" height="1.3" fill="#6d6d6d"/><rect x="904.5" y="363.82" width="7" height="1.3" fill="#6d6d6d"/><rect x="904.5" y="370.37" width="7" height="1.3" fill="#6d6d6d"/><rect x="904.5" y="376.92" width="7" height="1.3" fill="#6d6d6d"/><rect x="904.5" y="383.47" width="7" height="1.3" fill="#6d6d6d"/><rect x="904.5" y="390.02" width="7" height="1.3" fill="#6d6d6d"/><rect x="904.5" y="396.58" width="7" height="1.3" fill="#6d6d6d"/><rect x="904.5" y="403.13" width="7" height="1.3" fill="#6d6d6d"/><rect x="904.5" y="409.68" width="7" height="1.3" fill="#6d6d6d"/><rect x="904.5" y="416.23" width="7" height="1.3" fill="#6d6d6d"/><rect x="904.5" y="422.78" width="7" height="1.3" fill="#6d6d6d"/><rect x="904.5" y="429.34" width="7" height="1.3" fill="#6d6d6d"/><rect x="904.5" y="435.89" width="7" height="1.3" fill="#6d6d6d"/><rect x="904.5" y="442.44" width="7" height="1.3" fill="#6d6d6d"/><rect x="904.5" y="448.99" width="7" height="1.3" fill="#6d6d6d"/><rect x="904.5" y="455.54" width="7" height="1.3" fill="#6d6d6d"/><rect x="904.5" y="462.10" width="7" height="1.3" fill="#6d6d6d"/><rect x="904.5" y="468.65" width="7" height="1.3" fill="#6d6d6d"/><rect x="904.5" y="475.20" width="7" height="1.3" fill="#6d6d6d"/><rect x="904.5" y="481.75" width="7" height="1.3" fill="#6d6d6d"/><rect x="904.5" y="488.30" width="7" height="1.3" fill="#6d6d6d"/><rect x="904.5" y="494.86" width="7" height="1.3" fill="#6d6d6d"/><rect x="904.5" y="501.41" width="7" height="1.3" fill="#6d6d6d"/><rect x="904.5" y="507.96" width="7" height="1.3" fill="#6d6d6d"/><rect x="904.5" y="514.51" width="7" height="1.3" fill="#6d6d6d"/><rect x="904.5" y="521.06" width="7" height="1.3" fill="#6d6d6d"/><rect x="904.5" y="527.62" width="7" height="1.3" fill="#6d6d6d"/><rect x="904.5" y="534.17" width="7" height="1.3" fill="#6d6d6d"/><rect x="904.5" y="540.72" width="7" height="1.3" fill="#6d6d6d"/><rect x="904.5" y="547.27" width="7" height="1.3" fill="#6d6d6d"/><rect x="904.5" y="553.82" width="7" height="1.3" fill="#6d6d6d"/><rect x="904.5" y="560.38" width="7" height="1.3" fill="#6d6d6d"/><rect x="904.5" y="566.93" width="7" height="1.3" fill="#6d6d6d"/><rect x="904.5" y="573.48" width="7" height="1.3" fill="#6d6d6d"/><rect x="904.5" y="580.03" width="7" height="1.3" fill="#6d6d6d"/><rect x="904.5" y="586.58" width="7" height="1.3" fill="#6d6d6d"/><rect x="904.5" y="593.14" width="7" height="1.3" fill="#6d6d6d"/><rect x="904.5" y="599.69" width="7" height="1.3" fill="#6d6d6d"/><rect x="904.5" y="606.24" width="7" height="1.3" fill="#6d6d6d"/><rect x="904.5" y="612.79" width="7" height="1.3" fill="#6d6d6d"/><rect x="904.5" y="619.34" width="7" height="1.3" fill="#6d6d6d"/><rect x="904.5" y="625.90" width="7" height="1.3" fill="#6d6d6d"/><rect x="904.5" y="632.45" width="7" height="1.3" fill="#6d6d6d"/><rect x="904.5" y="639.00" width="7" height="1.3" fill="#6d6d6d"/><rect x="904.5" y="645.55" width="7" height="1.3" fill="#6d6d6d"/><rect x="904.5" y="652.10" width="7" height="1.3" fill="#6d6d6d"/><rect x="904.5" y="658.66" width="7" height="1.3" fill="#6d6d6d"/><rect x="904.5" y="665.21" width="7" height="1.3" fill="#6d6d6d"/><rect x="904.5" y="671.76" width="7" height="1.3" fill="#6d6d6d"/><rect x="904.5" y="678.31" width="7" height="1.3" fill="#6d6d6d"/><rect x="904.5" y="684.86" width="7" height="1.3" fill="#6d6d6d"/><rect x="904.5" y="691.42" width="7" height="1.3" fill="#6d6d6d"/><rect x="904.5" y="697.97" width="7" height="1.3" fill="#6d6d6d"/><rect x="904.5" y="704.52" width="7" height="1.3" fill="#6d6d6d"/><rect x="904.5" y="711.07" width="7" height="1.3" fill="#6d6d6d"/><rect x="904.5" y="717.62" width="7" height="1.3" fill="#6d6d6d"/><rect x="904.5" y="724.18" width="7" height="1.3" fill="#6d6d6d"/><rect x="904.5" y="730.73" width="7" height="1.3" fill="#6d6d6d"/><rect x="904.5" y="737.28" width="7" height="1.3" fill="#6d6d6d"/><rect x="904.5" y="743.83" width="7" height="1.3" fill="#6d6d6d"/><rect x="904.5" y="750.38" width="7" height="1.3" fill="#6d6d6d"/><rect x="904.5" y="756.94" width="7" height="1.3" fill="#6d6d6d"/><rect x="904.5" y="763.49" width="7" height="1.3" fill="#6d6d6d"/><rect x="904.5" y="770.04" width="7" height="1.3" fill="#6d6d6d"/><rect x="904.5" y="776.59" width="7" height="1.3" fill="#6d6d6d"/><rect x="904.5" y="783.14" width="7" height="1.3" fill="#6d6d6d"/><rect x="904.5" y="789.70" width="7" height="1.3" fill="#6d6d6d"/><rect x="904.5" y="796.25" width="7" height="1.3" fill="#6d6d6d"/><rect x="904.5" y="802.80" width="7" height="1.3" fill="#6d6d6d"/><rect x="904.5" y="809.35" width="7" height="1.3" fill="#6d6d6d"/><rect x="904.5" y="815.90" width="7" height="1.3" fill="#6d6d6d"/><rect x="904.5" y="822.46" width="7" height="1.3" fill="#6d6d6d"/><rect x="904.5" y="829.01" width="7" height="1.3" fill="#6d6d6d"/><rect x="904.5" y="835.56" width="7" height="1.3" fill="#6d6d6d"/><rect x="904.5" y="842.11" width="7" height="1.3" fill="#6d6d6d"/><rect x="904.5" y="848.66" width="7" height="1.3" fill="#6d6d6d"/><rect x="904.5" y="855.22" width="7" height="1.3" fill="#6d6d6d"/><rect x="904.5" y="861.77" width="7" height="1.3" fill="#6d6d6d"/><rect x="904.5" y="868.32" width="7" height="1.3" fill="#6d6d6d"/><rect x="904.5" y="874.87" width="7" height="1.3" fill="#6d6d6d"/><rect x="904.5" y="881.42" width="7" height="1.3" fill="#6d6d6d"/><rect x="904.5" y="887.98" width="7" height="1.3" fill="#6d6d6d"/><rect x="904.5" y="894.53" width="7" height="1.3" fill="#6d6d6d"/><rect x="904.5" y="901.08" width="7" height="1.3" fill="#6d6d6d"/><rect x="904.5" y="907.63" width="7" height="1.3" fill="#6d6d6d"/><rect x="904.5" y="914.18" width="7" height="1.3" fill="#6d6d6d"/><rect x="904.5" y="920.74" width="7" height="1.3" fill="#6d6d6d"/><rect x="904.5" y="927.29" width="7" height="1.3" fill="#6d6d6d"/><rect x="904.5" y="933.84" width="7" height="1.3" fill="#6d6d6d"/><rect x="904.5" y="940.39" width="7" height="1.3" fill="#6d6d6d"/><rect x="904.5" y="946.94" width="7" height="1.3" fill="#6d6d6d"/><rect x="904.5" y="953.50" width="7" height="1.3" fill="#6d6d6d"/><rect x="904.5" y="960.05" width="7" height="1.3" fill="#6d6d6d"/><rect x="904.5" y="966.60" width="7" height="1.3" fill="#6d6d6d"/><rect x="904.5" y="973.15" width="7" height="1.3" fill="#6d6d6d"/><rect x="904.5" y="979.70" width="7" height="1.3" fill="#6d6d6d"/><rect x="904.5" y="986.26" width="7" height="1.3" fill="#6d6d6d"/><rect x="904.5" y="992.81" width="7" height="1.3" fill="#6d6d6d"/><rect x="904.5" y="999.36" width="7" height="1.3" fill="#6d6d6d"/><rect x="904.5" y="1005.91" width="7" height="1.3" fill="#6d6d6d"/><rect x="904.5" y="1012.46" width="7" height="1.3" fill="#6d6d6d"/><rect x="904.5" y="1019.02" width="7" height="1.3" fill="#6d6d6d"/><rect x="904.5" y="1025.57" width="7" height="1.3" fill="#6d6d6d"/><rect x="904.5" y="1032.12" width="7" height="1.3" fill="#6d6d6d"/><rect x="904.5" y="1038.67" width="7" height="1.3" fill="#6d6d6d"/><rect x="904.5" y="1045.22" width="7" height="1.3" fill="#6d6d6d"/><rect x="904.5" y="1051.78" width="7" height="1.3" fill="#6d6d6d"/><rect x="904.5" y="1058.33" width="7" height="1.3" fill="#6d6d6d"/><rect x="904.5" y="1064.88" width="7" height="1.3" fill="#6d6d6d"/><rect x="904.5" y="1071.43" width="7" height="1.3" fill="#6d6d6d"/><rect x="904.5" y="1077.98" width="7" height="1.3" fill="#6d6d6d"/><rect x="904.5" y="1084.54" width="7" height="1.3" fill="#6d6d6d"/><rect x="904.5" y="1091.09" width="7" height="1.3" fill="#6d6d6d"/><rect x="904.5" y="1097.64" width="7" height="1.3" fill="#6d6d6d"/><rect x="904.5" y="1104.19" width="7" height="1.3" fill="#6d6d6d"/><rect x="904.5" y="1110.74" width="7" height="1.3" fill="#6d6d6d"/><rect x="904.5" y="1117.30" width="7" height="1.3" fill="#6d6d6d"/><rect x="904.5" y="1123.85" width="7" height="1.3" fill="#6d6d6d"/><rect x="904.5" y="1130.40" width="7" height="1.3" fill="#6d6d6d"/><rect x="904.5" y="1136.95" width="7" height="1.3" fill="#6d6d6d"/><rect x="911" y="1140" width="1271" height="2" fill="#bdbdbd"/><rect x="911.4" y="1141" width="1.3" height="8" fill="#666"/><rect x="1009.1" y="1141" width="1.3" height="8" fill="#666"/><rect x="1106.8" y="1141" width="1.3" height="8" fill="#666"/><rect x="1204.5" y="1141" width="1.3" height="8" fill="#666"/><rect x="1302.2" y="1141" width="1.3" height="8" fill="#666"/><rect x="1399.9" y="1141" width="1.3" height="8" fill="#666"/><rect x="1497.6" y="1141" width="1.3" height="8" fill="#666"/><rect x="1595.3" y="1141" width="1.3" height="8" fill="#666"/><rect x="1693.0" y="1141" width="1.3" height="8" fill="#666"/><rect x="1790.7" y="1141" width="1.3" height="8" fill="#666"/><rect x="1888.4" y="1141" width="1.3" height="8" fill="#666"/><rect x="1986.1" y="1141" width="1.3" height="8" fill="#666"/><rect x="2083.8" y="1141" width="1.3" height="8" fill="#666"/></svg><div class="t yl" style="top:330.61px;">1,894 - 1,895</div><div class="t yl" style="top:356.82px;">1,898 - 1,899</div><div class="t yl" style="top:383.02px;">1,902 - 1,903</div><div class="t yl" style="top:409.23px;">1,906 - 1,907</div><div class="t yl" style="top:435.44px;">1,910 - 1,911</div><div class="t yl" style="top:461.65px;">1,914 - 1,915</div><div class="t yl" style="top:487.86px;">1,918 - 1,919</div><div class="t yl" style="top:514.06px;">1,922 - 1,923</div><div class="t yl" style="top:540.27px;">1,926 - 1,927</div><div class="t yl" style="top:566.48px;">1,930 - 1,931</div><div class="t yl" style="top:592.69px;">1,934 - 1,935</div><div class="t yl" style="top:618.90px;">1,938 - 1,939</div><div class="t yl" style="top:645.10px;">1,942 - 1,943</div><div class="t yl" style="top:671.31px;">1,946 - 1,947</div><div class="t yl" style="top:697.52px;">1,950 - 1,951</div><div class="t yl" style="top:723.73px;">1,954 - 1,955</div><div class="t yl" style="top:749.94px;">1,958 - 1,959</div><div class="t yl" style="top:776.14px;">1,962 - 1,963</div><div class="t yl" style="top:802.35px;">1,966 - 1,967</div><div class="t yl" style="top:828.56px;">1,970 - 1,971</div><div class="t yl" style="top:854.77px;">1,974 - 1,975</div><div class="t yl" style="top:880.98px;">1,978 - 1,979</div><div class="t yl" style="top:907.18px;">1,982 - 1,983</div><div class="t yl" style="top:933.39px;">1,986 - 1,987</div><div class="t yl" style="top:959.60px;">1,990 - 1,991</div><div class="t yl" style="top:985.81px;">1,994 - 1,995</div><div class="t yl" style="top:1012.02px;">1,998 - 1,999</div><div class="t yl" style="top:1038.22px;">2,002 - 2,003</div><div class="t yl" style="top:1064.43px;">2,006 - 2,007</div><div class="t yl" style="top:1090.64px;">2,010 - 2,011</div><div class="t yl" style="top:1116.85px;">2,014 - 2,015</div><div class="t yl" style="top:304.40px;">(NaN)</div><div class="t xl" style="left:852.0px;">0</div><div class="t xl" style="left:949.7px;">100</div><div class="t xl" style="left:1047.4px;">200</div><div class="t xl" style="left:1145.1px;">300</div><div class="t xl" style="left:1242.8px;">400</div><div class="t xl" style="left:1340.5px;">500</div><div class="t xl" style="left:1438.2px;">600</div><div class="t xl" style="left:1535.9px;">700</div><div class="t xl" style="left:1633.6px;">800</div><div class="t xl" style="left:1731.3px;">900</div><div class="t xl" style="left:1829.0px;">1,000</div><div class="t xl" style="left:1926.7px;">1,100</div><div class="t xl" style="left:2024.4px;">1,200</div><div class="t" style="left:1491.0px;top:1173.95px;font-size:19.9px;font-weight:700;color:#111;font-family:'Liberation Sans', sans-serif;">count ( _id )</div><div class="t" style="left:754.2px;top:716.6px;width:40px;text-align:center;font-size:18px;font-weight:700;color:#111;transform:rotate(-90deg);transform-origin:50% 50%;">year</div><div style="position:absolute;left:2130.3px;top:1123.2px;width:89.5px;height:89.5px;background:#071f2e;border-radius:50%;box-shadow:0 2px 6px rgba(0,0,0,.25)"></div><svg style="position:absolute;left:2140px;top:1135px" width="70" height="70"><path d="M15 9.5H56.5Q61.5 9.5 61.5 14.5V39.5Q61.5 44.5 56.5 44.5H30L19 57.5V44.5H15Q10 44.5 10 39.5V14.5Q10 9.5 15 9.5Z" fill="none" stroke="#8a9ca4" stroke-width="1.8" stroke-linejoin="round"/><circle cx="30" cy="22.5" r="4.8" fill="#25d366"/><path d="M21 35Q21 27.5 30 27.5Q39 27.5 39 35Z" fill="#25d366"/><circle cx="42.3" cy="22.3" r="4.4" fill="none" stroke="#d8dee0" stroke-width="1.6"/><path d="M37 35H50Q50 28 42.5 28Q39 28 37.5 30" fill="none" stroke="#d8dee0" stroke-width="1.6"/></svg><div style="position:absolute;left:2192.8px;top:1120.0px;width:33.0px;height:33.0px;background:#d3252c;border-radius:50%"></div><div class="t" style="left:2204.9px;top:1127.83px;font-size:16.5px;color:#fff;font-family:'Liberation Sans', sans-serif;">5</div>
</body></html>
